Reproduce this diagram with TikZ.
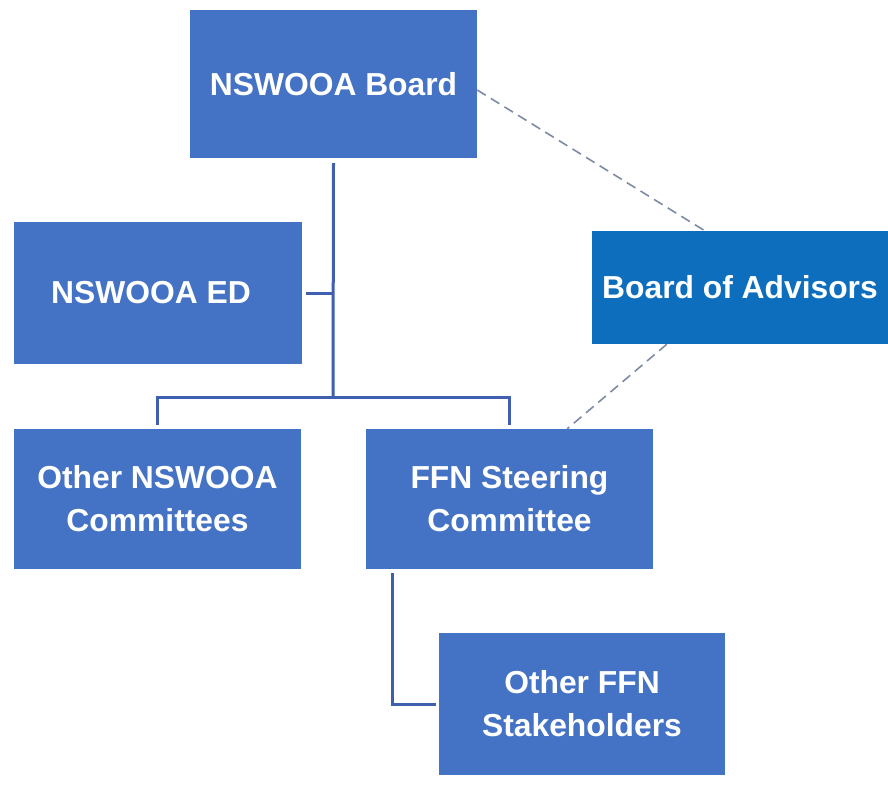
\documentclass[tikz,border=0pt]{standalone}
\usepackage{fontspec}
\setmainfont{Liberation Sans}
\begin{document}
\begin{tikzpicture}[x=1pt,y=-1pt,
  orgbox/.style={rectangle, fill=boxblue, text=white, inner sep=0pt,
    font=\bfseries\fontsize{31.8}{43}\selectfont, align=center},
  conn/.style={draw=linkblue, line width=3pt},
  advlink/.style={draw=dashgrey, line width=1.6pt, dash pattern=on 10pt off 6pt}]
  \definecolor{boxblue}{HTML}{4472C4}
  \definecolor{advblue}{HTML}{0D6EBE}
  \definecolor{linkblue}{HTML}{3F60AE}
  \definecolor{dashgrey}{HTML}{7F8BA6}
  \fill[white] (0,0) rectangle (888,790);
  \useasboundingbox (0,0) rectangle (888,790);

  % boxes
  \node[orgbox, minimum width=287pt, minimum height=148pt] (board) at (333.5,84) {NSWOOA Board};
  \node[orgbox, minimum width=288pt, minimum height=142pt] (ed) at (158,293) {NSWOOA ED\hspace*{14pt}};
  \node[orgbox, fill=advblue, minimum width=296pt, minimum height=113pt] (adv) at (740,287.5) {Board of Advisors};
  \node[orgbox, minimum width=287pt, minimum height=140pt] (oth) at (157.5,499) {Other NSWOOA\\Committees};
  \node[orgbox, minimum width=287pt, minimum height=140pt] (ffn) at (509.5,499) {FFN Steering\\Committee};
  \node[orgbox, minimum width=286pt, minimum height=142pt] (stk) at (582,704) {Other FFN\\Stakeholders};

  % reporting lines
  \coordinate (hub) at (333,397);
  \draw[conn] ([yshift=-5pt]board.south) -- (hub);
  \draw[conn] ([xshift=4pt]ed.east) -- (ed.east -| hub);
  \draw[conn] ([yshift=4pt]oth.north) -- (oth.north |- hub) -- (ffn.north |- hub) -- ([yshift=4pt]ffn.north);
  \draw[conn] ([xshift=27pt,yshift=-4pt]ffn.south west) |- ([xshift=-3pt]stk.west);

  % advisory links
  \draw[advlink] ([yshift=-6pt]board.east) -- ([xshift=113pt]adv.north west);
  \draw[advlink] ([xshift=75pt]adv.south west) -- ([xshift=-86pt]ffn.north east);
\end{tikzpicture}
\end{document}
